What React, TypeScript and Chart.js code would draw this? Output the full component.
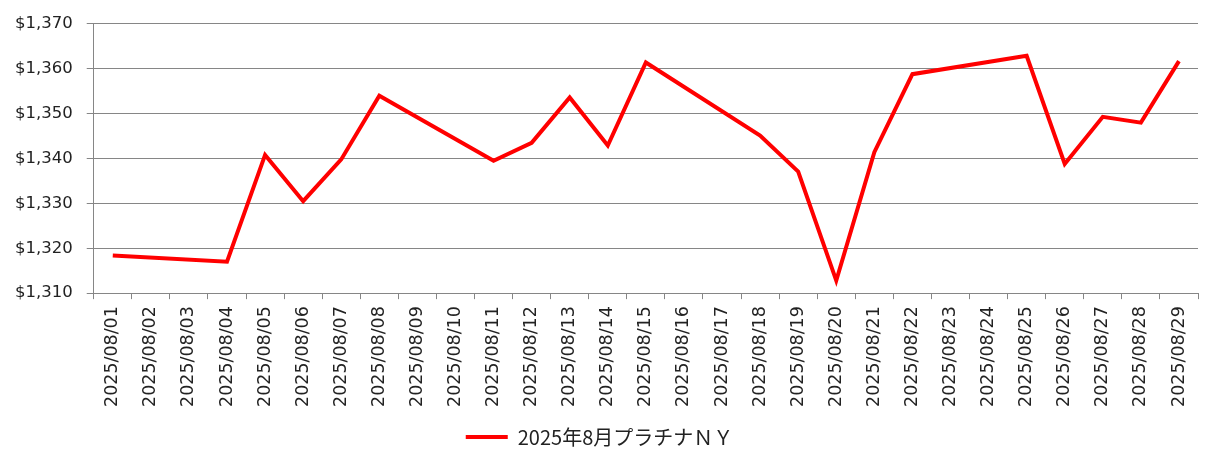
import React, { useEffect, useRef } from "react";
import { Chart, registerables } from "chart.js";

Chart.register(...registerables);

const categories: string[] = [
  "2025/08/01", "2025/08/02", "2025/08/03", "2025/08/04", "2025/08/05", "2025/08/06", "2025/08/07",
  "2025/08/08", "2025/08/09", "2025/08/10", "2025/08/11", "2025/08/12", "2025/08/13", "2025/08/14",
  "2025/08/15", "2025/08/16", "2025/08/17", "2025/08/18", "2025/08/19", "2025/08/20", "2025/08/21",
  "2025/08/22", "2025/08/23", "2025/08/24", "2025/08/25", "2025/08/26", "2025/08/27", "2025/08/28",
  "2025/08/29",
];

const platinumNY: (number | null)[] = [
  1318.4, null, null, 1317.0, 1340.8, 1330.5, 1339.8,
  1354.0, null, null, 1339.5, 1343.5, 1353.6, 1342.9,
  1361.4, null, null, 1345.1, 1337.1, 1312.8, 1341.4,
  1358.8, null, null, 1362.9, 1338.8, 1349.3, 1348.0,
  1361.7,
];

const seriesLabel = "2025年8月プラチナＮＹ";
const yMin = 1310;
const yMax = 1370;
const yStep = 10;

export default function App() {
  const canvasRef = useRef<HTMLCanvasElement | null>(null);

  useEffect(() => {
    document.body.style.margin = "0";
    const canvas = canvasRef.current;
    if (!canvas) return;
    const chart = new Chart(canvas, {
      type: "line",
      data: {
        labels: categories,
        datasets: [
          {
            label: seriesLabel,
            data: platinumNY,
            borderColor: "#FF0000",
            backgroundColor: "#FF0000",
            borderWidth: 4,
            pointRadius: 0,
            tension: 0,
            spanGaps: true,
          },
        ],
      },
      options: {
        animation: false,
        responsive: false,
        maintainAspectRatio: false,
        layout: { padding: { top: 22, left: 1, right: 23, bottom: 14 } },
        plugins: {
          tooltip: { enabled: false },
          legend: {
            position: "bottom",
            labels: {
              usePointStyle: true,
              pointStyle: "line",
              pointStyleWidth: 42,
              color: "#222",
              padding: 13,
              font: { family: "'Noto Sans CJK JP', 'DejaVu Sans', sans-serif", size: 20 },
            },
          },
        },
        scales: {
          x: {
            type: "category",
            offset: true,
            border: { display: true, color: "#868686", width: 1 },
            grid: {
              display: true,
              offset: true,
              drawOnChartArea: false,
              drawTicks: true,
              tickLength: 6,
              color: "#868686",
            },
            ticks: {
              autoSkip: false,
              maxRotation: 90,
              minRotation: 90,
              color: "#222",
              padding: 7,
              font: { family: "'DejaVu Sans', sans-serif", size: 17.5 },
            },
          },
          y: {
            min: yMin,
            max: yMax,
            border: { display: true, color: "#868686", width: 1 },
            grid: { color: "#868686", tickLength: 7, lineWidth: 1 },
            ticks: {
              stepSize: yStep,
              color: "#222",
              padding: 14,
              font: { family: "'DejaVu Sans', sans-serif", size: 16.5 },
              callback: (v: any) => "$" + Number(v).toLocaleString("en-US"),
            },
          },
        },
      },
    });
    return () => chart.destroy();
  }, []);

  return (
    <div style={{ width: 1221, height: 471 }}>
      <canvas ref={canvasRef} width={1221} height={471} style={{ display: "block" }} />
    </div>
  );
}
